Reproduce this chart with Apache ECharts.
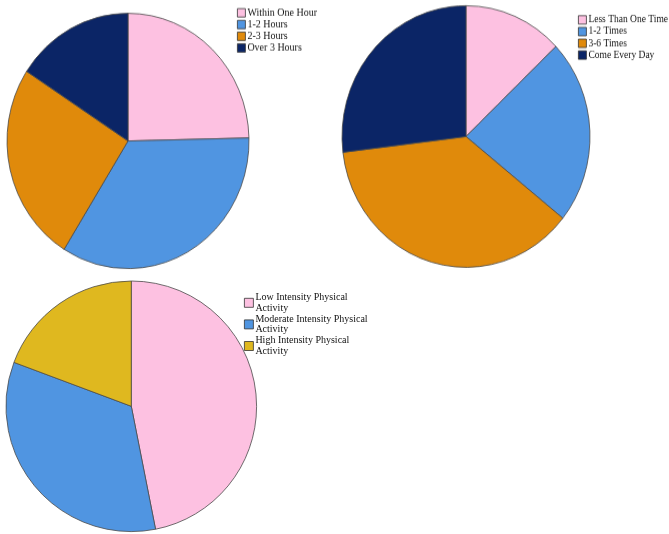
<!DOCTYPE html>
<html>
<head>
<meta charset="utf-8">
<script src="https://cdn.jsdelivr.net/npm/echarts@6/dist/echarts.min.js"></script>
<style>
  html, body { margin: 0; padding: 0; background: #fff; }
  #wrap { position: relative; width: 669px; height: 534px; overflow: hidden; }
  /* the two upper pies are a bit taller than wide in the picture */
  #top { position: absolute; left: 0; top: 0; width: 669px; height: 270px; transform: scaleY(1.055); transform-origin: 0 0; }
  #bottom { position: absolute; left: 0; top: 0; width: 669px; height: 534px; }
</style>
</head>
<body>
<div id="wrap">
  <div id="bottom"></div>
  <div id="top"></div>
</div>
<script>
// data (percent of respondents)
var timeNames = ['Within One Hour', '1-2 Hours', '2-3 Hours', 'Over 3 Hours'];
var timeValues = [24.6, 34.2, 25.3, 15.8];

var freqNames = ['Less Than One Time', '1-2 Times', '3-6 Times', 'Come Every Day'];
var freqValues = [12.9, 22.8, 37.3, 26.9];

var intensityNames = ['Low Intensity Physical Activity', 'Moderate Intensity Physical Activity', 'High Intensity Physical Activity'];
var intensityValues = [46.9, 33.8, 19.3];

var pink = '#fdc1e1', blue = '#5095e1', orange = '#e08a0b', navy = '#0b2566', gold = '#dfb81f';

function toData(names, values) {
    return names.map(function (n, i) { return { name: n, value: values[i] }; });
}

var pieBase = {
    type: 'pie',
    startAngle: 90,
    clockwise: true,
    label: { show: false },
    labelLine: { show: false },
    emphasis: { disabled: true },
    silent: true,
    animation: false,
    itemStyle: { borderColor: '#4a4a4a', borderWidth: 0.8 }
};

var legendBase = {
    orient: 'vertical',
    icon: 'rect',
    padding: 0,
    itemWidth: 8,
    itemHeight: 8,
    itemGap: 0,
    selectedMode: false,
    itemStyle: { borderColor: '#333', borderWidth: 0.8 }
};

function legendText(lh, extra) {
    return Object.assign({ fontFamily: 'Liberation Serif', fontSize: 10, color: '#111', lineHeight: lh, padding: [0, 0, 0, -3] }, extra || {});
}

// top chart is drawn in its own units, then stretched by 1.055 vertically
var topChart = echarts.init(document.getElementById('top'));
topChart.setOption({
    animation: false,
    legend: [
        Object.assign({}, legendBase, { data: timeNames, left: 237, top: 6.6, textStyle: legendText(11.1) }),
        Object.assign({}, legendBase, { data: freqNames, left: 578, top: 13.3, textStyle: legendText(11.1, { fontSize: 9.5 }) })
    ],
    series: [
        Object.assign({}, pieBase, {
            name: 'time', center: [128, 133.6], radius: 121,
            color: [pink, blue, orange, navy],
            data: toData(timeNames, timeValues)
        }),
        Object.assign({}, pieBase, {
            name: 'freq', center: [466, 129.4], radius: 124,
            color: [pink, blue, orange, navy],
            data: toData(freqNames, freqValues)
        })
    ]
});

var bottomChart = echarts.init(document.getElementById('bottom'));
bottomChart.setOption({
    backgroundColor: '#fff',
    animation: false,
    legend: [
        Object.assign({}, legendBase, {
            data: intensityNames, left: 244, top: 292,
            itemWidth: 9, itemHeight: 9,
            textStyle: legendText(10.8, { width: 118, overflow: 'break' })
        })
    ],
    series: [
        Object.assign({}, pieBase, {
            name: 'intensity', center: [131.3, 406.3], radius: 125.3,
            color: [pink, blue, gold],
            data: toData(intensityNames, intensityValues)
        })
    ]
});
</script>
</body>
</html>
